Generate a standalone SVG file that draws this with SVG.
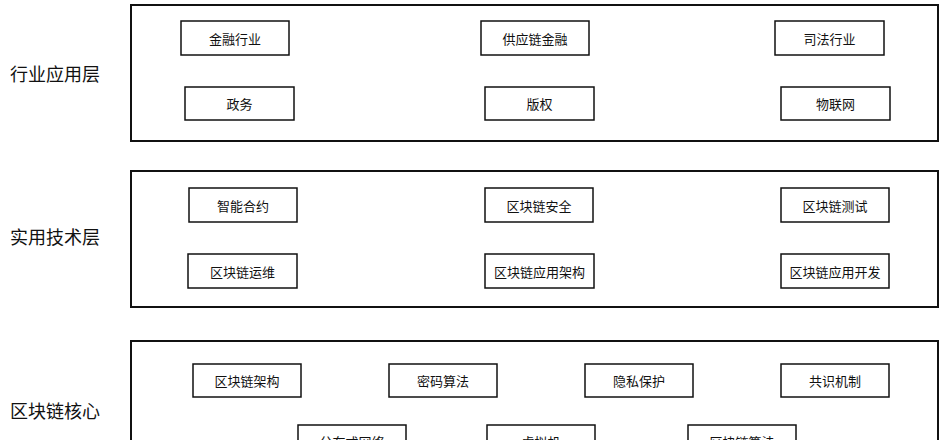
<svg xmlns="http://www.w3.org/2000/svg" width="941" height="440" viewBox="0 0 941 440">
<style>
.layer{fill:#fff;stroke:#111;stroke-width:2}
.b{fill:#fff;stroke:#111;stroke-width:1.5}
.t{font-family:"Noto Sans CJK SC",sans-serif;font-size:13px;text-anchor:middle;dominant-baseline:central;fill:#111}
.l{font-family:"Noto Sans CJK SC",sans-serif;font-size:18px;text-anchor:middle;dominant-baseline:central;fill:#111}
</style>
<rect width="941" height="440" fill="#fff"/>
<g id="layer1"><rect class="layer" x="131" y="5" width="807" height="136"/><text class="l" x="55" y="73">行业应用层</text></g>
<g id="layer2"><rect class="layer" x="131" y="171" width="807" height="136"/><text class="l" x="55" y="236">实用技术层</text></g>
<g id="layer3"><rect class="layer" x="131" y="341" width="807" height="120"/><text class="l" x="55" y="410">区块链核心</text></g>
<g id="n1"><rect class="b" x="181" y="21" width="108" height="34"/><text class="t" x="235" y="38">金融行业</text></g>
<g id="n2"><rect class="b" x="481" y="21" width="108" height="34"/><text class="t" x="535" y="38">供应链金融</text></g>
<g id="n3"><rect class="b" x="775" y="21" width="109" height="34"/><text class="t" x="829.500" y="38">司法行业</text></g>
<g id="n4"><rect class="b" x="185" y="87" width="109" height="33"/><text class="t" x="239.500" y="103.500">政务</text></g>
<g id="n5"><rect class="b" x="485" y="87" width="109" height="33"/><text class="t" x="539.500" y="103.500">版权</text></g>
<g id="n6"><rect class="b" x="781" y="87" width="109" height="33"/><text class="t" x="835.500" y="103.500">物联网</text></g>
<g id="n7"><rect class="b" x="189" y="188" width="108" height="34"/><text class="t" x="243" y="205">智能合约</text></g>
<g id="n8"><rect class="b" x="485" y="188" width="108" height="34"/><text class="t" x="539" y="205">区块链安全</text></g>
<g id="n9"><rect class="b" x="781" y="188" width="108" height="34"/><text class="t" x="835" y="205">区块链测试</text></g>
<g id="n10"><rect class="b" x="188" y="254" width="109" height="34"/><text class="t" x="242.500" y="271">区块链运维</text></g>
<g id="n11"><rect class="b" x="485" y="254" width="109" height="34"/><text class="t" x="539.500" y="271">区块链应用架构</text></g>
<g id="n12"><rect class="b" x="781" y="254" width="108" height="34"/><text class="t" x="835" y="271">区块链应用开发</text></g>
<g id="n13"><rect class="b" x="193" y="364" width="108" height="33"/><text class="t" x="247" y="380.500">区块链架构</text></g>
<g id="n14"><rect class="b" x="389" y="364" width="108" height="33"/><text class="t" x="443" y="380.500">密码算法</text></g>
<g id="n15"><rect class="b" x="585" y="364" width="108" height="33"/><text class="t" x="639" y="380.500">隐私保护</text></g>
<g id="n16"><rect class="b" x="781" y="364" width="108" height="33"/><text class="t" x="835" y="380.500">共识机制</text></g>
<g id="n17"><rect class="b" x="298" y="425" width="108" height="33"/><text class="t" x="352" y="441.500">分布式网络</text></g>
<g id="n18"><rect class="b" x="487" y="425" width="108" height="33"/><text class="t" x="541" y="441.500">虚拟机</text></g>
<g id="n19"><rect class="b" x="688" y="425" width="108" height="33"/><text class="t" x="742" y="441.500">区块链算法</text></g>
<g id="connectors"></g>
</svg>
